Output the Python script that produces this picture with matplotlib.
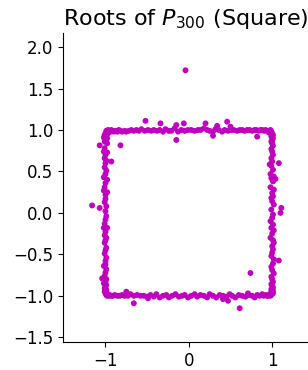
import matplotlib
matplotlib.use("Agg")
import matplotlib.pyplot as plt
import numpy as np

# roots, grouped by edge of the square
top_x = [-0.99, -0.98, -0.97, -0.96, -0.95, -0.94, -0.93, -0.92, -0.90, -0.88,
         -0.86, -0.84, -0.82, -0.80, -0.77, -0.75, -0.72, -0.69, -0.66, -0.63,
         -0.60, -0.57, -0.53, -0.49, -0.45, -0.42, -0.38, -0.35, -0.31, -0.28,
         -0.24, -0.21, -0.17, -0.13, -0.09, -0.05, -0.01, 0.03, 0.07, 0.11,
         0.14, 0.18, 0.22, 0.25, 0.29, 0.32, 0.36, 0.40, 0.43, 0.47,
         0.51, 0.54, 0.58, 0.61, 0.64, 0.67, 0.70, 0.73, 0.76, 0.79,
         0.81, 0.84, 0.86, 0.88, 0.90, 0.92, 0.94, 0.95, 0.96, 0.97,
         0.98, 0.99]
top_y = [0.99, 0.98, 1.0, 0.97, 0.99, 0.98, 1.0, 0.99, 0.98, 0.99,
         0.98, 1.0, 0.99, 0.98, 0.99, 0.98, 0.99, 1.0, 0.99, 1.0,
         0.99, 1.01, 0.99, 1.0, 0.99, 1.0, 0.99, 1.0, 0.98, 1.01,
         0.99, 0.99, 1.02, 0.98, 1.0, 0.99, 1.0, 1.0, 0.99, 1.0,
         1.0, 1.02, 1.0, 0.99, 0.98, 1.01, 1.0, 0.98, 1.0, 0.99,
         1.0, 1.0, 0.99, 1.0, 1.0, 0.99, 1.0, 1.0, 0.99, 1.0,
         1.0, 0.99, 1.0, 1.0, 0.99, 1.0, 0.99, 0.98, 0.97, 0.99,
         1.0, 0.98]

left_y = [0.96, 0.95, 0.94, 0.93, 0.92, 0.91, 0.90, 0.88, 0.86, 0.84,
          0.78, 0.74, 0.73, 0.70, 0.66, 0.63, 0.60, 0.55, 0.51, 0.47,
          0.43, 0.40, 0.36, 0.31, 0.27, 0.25, 0.22, 0.17, 0.13, 0.08,
          0.02, -0.04, -0.08, -0.13, -0.18, -0.18, -0.23, -0.27, -0.30, -0.33,
          -0.36, -0.42, -0.45, -0.49, -0.54, -0.58, -0.62, -0.64, -0.68, -0.72,
          -0.76, -0.80, -0.83, -0.85, -0.87, -0.89, -0.91, -0.93, -0.94, -0.95,
          -0.96, -0.97]
left_x = [-1.0, -0.98, -1.01, -0.99, -1.0, -1.02, -0.98, -1.0, -1.01, -0.98,
          -1.01, -1.02, -0.98, -1.0, -1.01, -0.99, -1.0, -1.01, -0.99, -1.0,
          -1.02, -0.98, -1.0, -1.01, -1.02, -0.98, -1.0, -1.0, -1.01, -0.99,
          -1.0, -0.99, -1.0, -1.01, -1.02, -0.98, -1.0, -1.01, -0.99, -1.0,
          -1.01, -0.99, -1.0, -1.01, -0.99, -1.0, -1.0, -1.02, -0.99, -1.0,
          -1.01, -0.99, -1.0, -1.02, -0.99, -1.0, -1.01, -0.99, -1.0, -1.01,
          -0.99, -1.0]

right_y = [0.96, 0.95, 0.94, 0.93, 0.92, 0.90, 0.88, 0.86, 0.84, 0.81,
           0.77, 0.74, 0.70, 0.66, 0.62, 0.57, 0.52, 0.47, 0.44, 0.42,
           0.38, 0.31, 0.28, 0.24, 0.20, 0.18, 0.14, 0.10, 0.04, -0.02,
           -0.06, -0.10, -0.14, -0.18, -0.21, -0.25, -0.30, -0.33, -0.36, -0.40,
           -0.44, -0.48, -0.52, -0.56, -0.61, -0.65, -0.69, -0.73, -0.77, -0.80,
           -0.83, -0.86, -0.88, -0.90, -0.92, -0.93, -0.94, -0.95, -0.96, -0.97]
right_x = [1.0, 0.99, 1.01, 1.0, 0.99, 1.01, 1.0, 0.99, 1.0, 1.01,
           0.99, 1.0, 1.01, 0.99, 1.0, 0.99, 1.01, 0.98, 1.02, 0.99,
           1.01, 0.98, 1.02, 1.0, 1.01, 0.99, 1.0, 1.02, 0.99, 1.01,
           1.0, 0.98, 1.01, 0.99, 1.02, 1.0, 0.98, 1.01, 1.02, 1.0,
           1.01, 1.0, 0.99, 1.02, 1.01, 0.99, 1.0, 1.02, 0.99, 1.0,
           1.01, 0.99, 1.0, 1.01, 0.99, 1.0, 1.01, 0.99, 1.0, 1.01]

bottom_x = [-0.99, -0.98, -0.97, -0.96, -0.95, -0.93, -0.91, -0.89, -0.86, -0.83,
            -0.80, -0.77, -0.73, -0.70, -0.66, -0.62, -0.58, -0.54, -0.50, -0.46,
            -0.42, -0.39, -0.35, -0.31, -0.27, -0.24, -0.20, -0.16, -0.12, -0.08,
            -0.05, -0.01, 0.03, 0.07, 0.10, 0.14, 0.18, 0.22, 0.25, 0.29,
            0.33, 0.37, 0.41, 0.45, 0.49, 0.52, 0.56, 0.60, 0.64, 0.68,
            0.72, 0.76, 0.79, 0.82, 0.85, 0.88, 0.90, 0.92, 0.94, 0.95,
            0.96, 0.97, 0.98, 0.99]
bottom_y = [-0.99, -1.0, -0.98, -1.0, -0.99, -1.0, -1.0, -0.99, -1.0, -1.0,
            -0.99, -1.0, -1.0, -0.98, -1.0, -0.99, -1.0, -1.0, -1.01, -0.99,
            -1.01, -0.98, -1.02, -1.0, -0.99, -1.02, -1.0, -0.98, -1.01, -1.0,
            -0.99, -1.02, -1.0, -0.98, -1.01, -0.99, -1.0, -1.02, -0.98, -1.0,
            -1.02, -0.99, -1.0, -1.01, -0.98, -1.0, -1.02, -0.99, -1.0, -1.01,
            -0.99, -1.0, -1.02, -0.99, -1.0, -0.98, -1.0, -0.99, -1.0, -1.0,
            -0.99, -0.98, -1.0, -0.99]

# scattered roots off the square
off_x = [-0.04, -0.52, -0.34, -0.15, -0.06, -0.15, 0.20, 0.34, 0.29, 0.46,
         0.50, 0.82, -1.07, -0.82, -0.93, 0.97, 1.08, 1.04, 1.11, 1.10,
         -1.16, -1.07, 0.74, 0.61, -0.66, -0.75, -1.04, 1.08, 0.47, 0.71,
         -0.49, 0.41]
off_y = [1.72, 1.11, 1.08, 1.06, 1.08, 0.88, 1.08, 1.05, 0.93, 1.10,
         1.04, 0.92, 0.815, 0.815, 0.62, 0.585, 0.60, 0.41, 0.06, 0.0,
         0.09, 0.06, -0.725, -1.15, -1.09, -0.95, -0.79, -0.575, -1.06, -0.97,
         -1.03, -1.04]

xs = np.concatenate([top_x, left_x, right_x, bottom_x, off_x])
ys = np.concatenate([top_y, left_y, right_y, bottom_y, off_y])

fig = plt.figure(figsize=(3.08, 3.70), dpi=100)
ax = fig.add_axes([0.2045, 0.0757, 0.7955, 0.8351])
ax.scatter(xs, ys, s=18, c='m', edgecolors='none')

ax.set_xlim(-1.51, 1.43)
ax.set_ylim(-1.557, 2.17)
ax.set_xticks([-1, 0, 1])
ax.set_yticks([-1.5, -1.0, -0.5, 0.0, 0.5, 1.0, 1.5, 2.0])
ax.tick_params(labelsize=12)
ax.spines['top'].set_visible(False)
ax.spines['right'].set_visible(False)
ax.set_title(r'Roots of $P_{300}$ (Square)', fontsize=16)

fig.savefig('out.png', dpi=100)
